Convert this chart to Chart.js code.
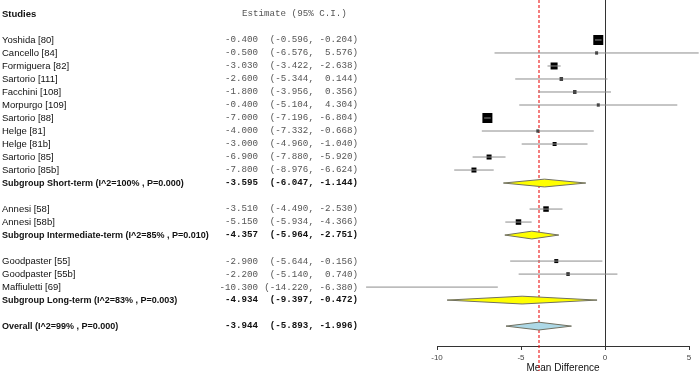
<!DOCTYPE html>
<html>
<head>
<meta charset="utf-8">
<script src="https://cdn.jsdelivr.net/npm/chart.js@4.4.1/dist/chart.umd.min.js"></script>
<style>
  body { margin: 0; background: #fff; }
  #forest { display: block; }
</style>
</head>
<body>
<canvas id="forest" width="700" height="371"></canvas>
<script>
// single studies (row = line number in the plot, 0 at the top)
var studyNames = ['Yoshida [80]', 'Cancello [84]', 'Formiguera [82]', 'Sartorio [111]', 'Facchini [108]',
  'Morpurgo [109]', 'Sartorio [88]', 'Helge [81]', 'Helge [81b]', 'Sartorio [85]', 'Sartorio [85b]',
  'Annesi [58]', 'Annesi [58b]', 'Goodpaster [55]', 'Goodpaster [55b]', 'Maffiuletti [69]'];
var studyRows = [0, 1, 2, 3, 4, 5, 6, 7, 8, 9, 10, 13, 14, 17, 18, 19];
var studyEst = [-0.400, -0.500, -3.030, -2.600, -1.800, -0.400, -7.000, -4.000, -3.000, -6.900, -7.800,
  -3.510, -5.150, -2.900, -2.200, -10.300];
var studyLo = [-0.596, -6.576, -3.422, -5.344, -3.956, -5.104, -7.196, -7.332, -4.960, -7.880, -8.976,
  -4.490, -5.934, -5.644, -5.140, -14.220];
var studyHi = [-0.204, 5.576, -2.638, 0.144, 0.356, 4.304, -6.804, -0.668, -1.040, -5.920, -6.624,
  -2.530, -4.366, -0.156, 0.740, -6.380];
var studyWeight = [10, 3, 7, 3.5, 3.5, 3, 10, 3, 4, 5, 5, 5.5, 5.5, 4, 3.5, 3]; // square side, px

// subgroups + overall
var sumNames = ['Subgroup Short-term (I^2=100% , P=0.000)', 'Subgroup Intermediate-term (I^2=85% , P=0.010)',
  'Subgroup Long-term (I^2=83% , P=0.003)', 'Overall (I^2=99% , P=0.000)'];
var sumRows = [11, 15, 20, 22];
var sumEst = [-3.595, -4.357, -4.934, -3.944];
var sumLo = [-6.047, -5.964, -9.397, -5.893];
var sumHi = [-1.144, -2.751, -0.472, -1.996];
var sumColors = ['#ffff00', '#ffff00', '#ffff00', '#add8e6'];

var xTicks = [-10, -5, 0, 5];

var DIAMOND_H = 0.3;

// CI segments, broken with null points
var ciData = [];
for (var i = 0; i < studyNames.length; i++) {
  ciData.push({x: studyLo[i], y: studyRows[i]});
  ciData.push({x: studyHi[i], y: studyRows[i]});
  ciData.push({x: null, y: null});
}
var boxData = [];
for (var i = 0; i < studyNames.length; i++) {
  boxData.push({x: studyEst[i], y: studyRows[i]});
}

var datasets = [];
for (var j = 0; j < sumNames.length; j++) {
  var r = sumRows[j];
  datasets.push({
    type: 'line',
    data: [
      {x: sumLo[j], y: r}, {x: sumEst[j], y: r - DIAMOND_H},
      {x: sumHi[j], y: r}, {x: sumEst[j], y: r + DIAMOND_H}, {x: sumLo[j], y: r}
    ],
    fill: 'shape',
    backgroundColor: sumColors[j],
    borderColor: '#707060',
    borderWidth: 1,
    pointRadius: 0,
    tension: 0,
    clip: false,
    order: 3
  });
}
datasets.push({
  type: 'scatter',
  data: boxData,
  pointStyle: 'rect',
  pointRadius: function(ctx) { return studyWeight[ctx.dataIndex] / Math.SQRT2; },
  backgroundColor: '#000',
  borderWidth: 0,
  clip: false,
  order: 2
});
datasets.push({
  type: 'line',
  data: ciData,
  borderColor: '#8c8c8c',
  borderWidth: 1,
  pointRadius: 0,
  spanGaps: false,
  clip: false,
  order: 1
});

function fmt(v) { return v.toFixed(3); }
function pad(s, n) { while (s.length < n) s = ' ' + s; return s; }

var forestText = {
  id: 'forestText',
  beforeDatasetsDraw: function(chart) {
    var c = chart.ctx, xs = chart.scales.x;
    var area = chart.chartArea;
    c.save();
    // no-effect line
    c.strokeStyle = '#333';
    c.lineWidth = 1;
    var x0 = Math.round(xs.getPixelForValue(0)) + 0.5;
    c.beginPath(); c.moveTo(x0, 0); c.lineTo(x0, area.bottom); c.stroke();
    c.restore();
    // overall estimate, dashed red
    c.save();
    var xo = Math.round(xs.getPixelForValue(sumEst[3]));
    c.strokeStyle = 'rgb(235,20,20)';
    c.lineWidth = 1.1;
    c.setLineDash([3, 2]);
    c.beginPath(); c.moveTo(xo, 0); c.lineTo(xo, chart.height); c.stroke();
    c.restore();
  },
  afterDraw: function(chart) {
    var c = chart.ctx, ys = chart.scales.y;
    c.save();
    c.textBaseline = 'middle';
    var sans = '"Liberation Sans", Arial, sans-serif';
    var mono = '"Liberation Mono", "Courier New", monospace';

    c.fillStyle = '#111';
    c.font = 'bold 9.5px ' + sans;
    c.textAlign = 'left';
    c.fillText('Studies', 2, ys.getPixelForValue(-2));
    c.fillStyle = '#555';
    c.font = '9.2px ' + mono;
    c.fillText('Estimate (95% C.I.)', 242, ys.getPixelForValue(-2));

    for (var i = 0; i < studyNames.length; i++) {
      var y = ys.getPixelForValue(studyRows[i]);
      c.textAlign = 'left';
      c.fillStyle = '#111';
      c.font = '9.5px ' + sans;
      c.fillText(studyNames[i], 2, y);
      c.fillStyle = '#555';
      c.font = '9.2px ' + mono;
      c.textAlign = 'right';
      c.fillText(fmt(studyEst[i]), 258, y);
      c.fillText('(' + fmt(studyLo[i]) + ', ' + pad(fmt(studyHi[i]), 6) + ')', 358, y);
    }
    for (var j = 0; j < sumNames.length; j++) {
      var y2 = ys.getPixelForValue(sumRows[j]);
      c.fillStyle = '#111';
      c.textAlign = 'left';
      c.font = 'bold 9px ' + sans;
      c.fillText(sumNames[j], 2, y2);
      c.font = 'bold 9.2px ' + mono;
      c.textAlign = 'right';
      c.fillText(fmt(sumEst[j]), 258, y2);
      c.fillText('(' + fmt(sumLo[j]) + ', ' + pad(fmt(sumHi[j]), 6) + ')', 358, y2);
    }
    c.restore();
  }
};

var chart = new Chart(document.getElementById('forest').getContext('2d'), {
  type: 'scatter',
  data: { datasets: datasets },
  options: {
    responsive: false,
    animation: false,
    devicePixelRatio: 1,
    layout: { padding: { left: 437, right: 11, top: 0, bottom: 0 } },
    plugins: { legend: { display: false }, tooltip: { enabled: false } },
    scales: {
      x: {
        type: 'linear',
        min: -10,
        max: 5,
        afterBuildTicks: function(axis) { axis.ticks = xTicks.map(function(v) { return {value: v}; }); },
        grid: { drawOnChartArea: false, drawTicks: true, tickLength: 4, color: '#333' },
        border: { display: true, color: '#333' },
        ticks: { color: '#444', font: { size: 8, family: '"Liberation Sans", Arial' }, padding: 2.7, maxRotation: 0 },
        title: {
          display: true, text: 'Mean Difference', color: '#111',
          font: { size: 10, family: '"Liberation Sans", Arial', lineHeight: 0.6 },
          padding: 0
        }
      },
      y: {
        type: 'linear',
        reverse: true,
        min: -2.53,
        max: 23.53,
        display: false
      }
    }
  },
  plugins: [forestText]
});
</script>
</body>
</html>
